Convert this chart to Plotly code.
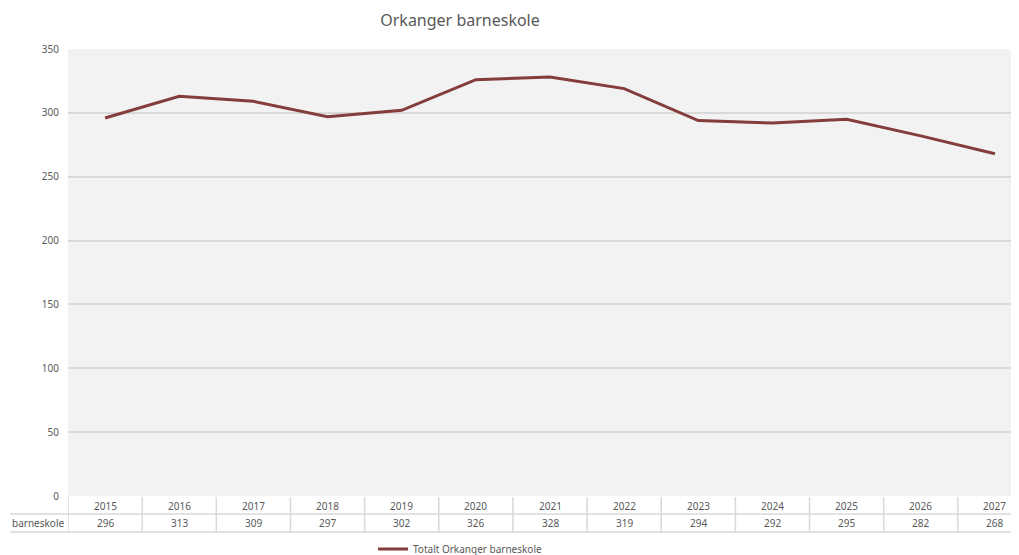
import plotly.graph_objects as go

years = ["2015", "2016", "2017", "2018", "2019", "2020", "2021", "2022", "2023", "2024", "2025", "2026", "2027"]
values = [296, 313, 309, 297, 302, 326, 328, 319, 294, 292, 295, 282, 268]
series_name = "Totalt Orkanger barneskole"
row_label = "barneskole"
title = "Orkanger barneskole"

LINE = "#843C3C"
TXT = "#595959"
GRID = "#D9D9D9"
FONT = "Noto Sans"

OFF = 8  # page body margin
W, H = 1019 - OFF, 555 - OFF
PL, PT, PB = 68, 49, 496          # plot area in screenshot pixels
L, T = PL - OFF, PT - OFF
B = H - (PB - OFF)
plot_h = H - T - B
cat_w = (1032 - 68) / len(years)
x_right = -0.5 + (1019 - PL) / cat_w

def py(pix):
    return (PB - pix) / plot_h

def px(pix):
    return (pix - PL) / (W - L)

fig = go.Figure()
fig.add_trace(go.Scatter(
    x=list(range(len(years))), y=values, mode="lines", name=series_name,
    line=dict(color=LINE, width=3),
))

shapes = []
ann = []
y_top, y_mid, y_bot = py(497), py(514), py(532)
for k in range(len(years) + 1):
    shapes.append(dict(type="line", xref="x", yref="paper", x0=k - 0.5, x1=k - 0.5,
                       y0=y_top, y1=y_bot, line=dict(color=GRID, width=1.5)))
for yy in (y_mid, y_bot):
    shapes.append(dict(type="line", xref="paper", yref="paper", x0=px(10), x1=1,
                       y0=yy, y1=yy, line=dict(color=GRID, width=1.5)))
tf = dict(size=10, color=TXT, family=FONT)
for i, (yr, v) in enumerate(zip(years, values)):
    ann.append(dict(x=i, y=(y_top + y_mid) / 2, xref="x", yref="paper", text=yr,
                    xanchor="center", yanchor="middle", showarrow=False, font=tf))
    ann.append(dict(x=i, y=(y_mid + y_bot) / 2, xref="x", yref="paper", text=str(v),
                    xanchor="center", yanchor="middle", showarrow=False, font=tf))
ann.append(dict(x=px(66), y=(y_mid + y_bot) / 2, xref="paper", yref="paper",
                text=row_label, xanchor="right", yanchor="middle", showarrow=False, font=tf))

fig.update_layout(
    width=W, height=H,
    margin=dict(l=L, r=0, t=T, b=B, autoexpand=False),
    paper_bgcolor="white", plot_bgcolor="#F2F2F2",
    title=dict(text=title, x=(460 - OFF) / W, xanchor="center", y=1 - (20 - OFF) / H,
               yanchor="middle", yref="container",
               font=dict(size=16, color=TXT, family=FONT)),
    font=dict(family=FONT, color=TXT),
    xaxis=dict(range=[-0.5, x_right], showticklabels=False, showgrid=False,
               zeroline=False, ticks=""),
    yaxis=dict(range=[0, 350], dtick=50, showgrid=True, gridcolor=GRID, gridwidth=1.5,
               zeroline=False, ticks="", tickfont=tf, ticklabelstandoff=8),
    showlegend=True,
    legend=dict(orientation="h", xref="container", x=(460 - OFF) / W, xanchor="center",
                yref="container", y=1 - (549 - OFF) / H, yanchor="middle",
                font=tf, bgcolor="rgba(0,0,0,0)"),
    shapes=shapes, annotations=ann,
)

fig.write_html("out.html")
